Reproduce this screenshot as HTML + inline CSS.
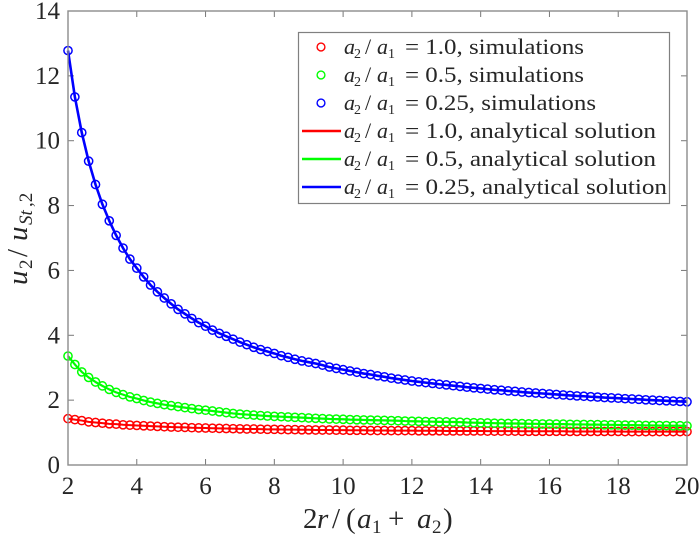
<!DOCTYPE html>
<html lang="en">
<head>
<meta charset="utf-8">
<title>Velocity ratio chart</title>
<style>
html,body{margin:0;padding:0;background:#fff;}
svg{display:block;}
text{font-family:"Liberation Serif",serif;fill:#262626;}
.i{font-style:italic;}
</style>
</head>
<body>
<svg id="chart" width="699" height="535" viewBox="0 0 699 535" xmlns="http://www.w3.org/2000/svg">
  <rect x="68" y="11" width="619" height="454" fill="#fff"/>
  <g id="ticks"></g>
  <g id="series"></g>
  <rect x="68" y="11" width="619" height="454" fill="none" stroke="#8c8c8c" stroke-width="1.4"/>
  <g id="tick-labels"></g>

  <text y="528" font-size="29">
    <tspan x="303">2</tspan><tspan x="317" class="i">r</tspan><tspan x="332">/</tspan><tspan x="346">(</tspan><tspan x="357" class="i">a</tspan><tspan x="372" y="533" font-size="19">1</tspan><tspan x="388" y="528">+</tspan><tspan x="417" class="i">a</tspan><tspan x="432" y="533" font-size="19">2</tspan><tspan x="443" y="528">)</tspan>
  </text>
  <text transform="translate(27,285) rotate(-90)" y="0" font-size="29">
    <tspan x="0" class="i">u</tspan><tspan x="16" y="5" font-size="19">2</tspan><tspan x="28" y="0">/</tspan><tspan x="44" class="i">u</tspan><tspan x="60" y="5" font-size="19" class="i">St</tspan><tspan x="78" y="5" font-size="19">,2</tspan>
  </text>

  <g>
    <rect x="298.5" y="32.5" width="371" height="171" fill="#fff" stroke="#808080" stroke-width="1.2"/>
    <g id="legend-keys"></g>
    <g font-size="22">
      <text y="54"><tspan x="344" class="i">a</tspan><tspan x="354" y="58" font-size="14">2</tspan><tspan x="365" y="54">/</tspan><tspan x="377" class="i">a</tspan><tspan x="388" y="58" font-size="14">1</tspan><tspan x="405" y="54" textLength="179" lengthAdjust="spacingAndGlyphs">= 1.0, simulations</tspan></text>
      <text y="82"><tspan x="344" class="i">a</tspan><tspan x="354" y="86" font-size="14">2</tspan><tspan x="365" y="82">/</tspan><tspan x="377" class="i">a</tspan><tspan x="388" y="86" font-size="14">1</tspan><tspan x="405" y="82" textLength="179" lengthAdjust="spacingAndGlyphs">= 0.5, simulations</tspan></text>
      <text y="110"><tspan x="344" class="i">a</tspan><tspan x="354" y="114" font-size="14">2</tspan><tspan x="365" y="110">/</tspan><tspan x="377" class="i">a</tspan><tspan x="388" y="114" font-size="14">1</tspan><tspan x="405" y="110" textLength="191" lengthAdjust="spacingAndGlyphs">= 0.25, simulations</tspan></text>
      <text y="138"><tspan x="344" class="i">a</tspan><tspan x="354" y="142" font-size="14">2</tspan><tspan x="365" y="138">/</tspan><tspan x="377" class="i">a</tspan><tspan x="388" y="142" font-size="14">1</tspan><tspan x="405" y="138" textLength="251" lengthAdjust="spacingAndGlyphs">= 1.0, analytical solution</tspan></text>
      <text y="166"><tspan x="344" class="i">a</tspan><tspan x="354" y="170" font-size="14">2</tspan><tspan x="365" y="166">/</tspan><tspan x="377" class="i">a</tspan><tspan x="388" y="170" font-size="14">1</tspan><tspan x="405" y="166" textLength="251" lengthAdjust="spacingAndGlyphs">= 0.5, analytical solution</tspan></text>
      <text y="194"><tspan x="344" class="i">a</tspan><tspan x="354" y="198" font-size="14">2</tspan><tspan x="365" y="194">/</tspan><tspan x="377" class="i">a</tspan><tspan x="388" y="198" font-size="14">1</tspan><tspan x="405" y="194" textLength="262" lengthAdjust="spacingAndGlyphs">= 0.25, analytical solution</tspan></text>
    </g>
  </g>
</svg>
<script>
const xTickValues = [2,4,6,8,10,12,14,16,18,20];
const yTickValues = [0,2,4,6,8,10,12,14];
const separations = [2,2.2,2.4,2.6,2.8,3,3.2,3.4,3.6,3.8,4,4.2,4.4,4.6,4.8,5,5.2,5.4,5.6,5.8,6,6.2,6.4,6.6,6.8,7,7.2,7.4,7.6,7.8,8,8.2,8.4,8.6,8.8,9,9.2,9.4,9.6,9.8,10,10.2,10.4,10.6,10.8,11,11.2,11.4,11.6,11.8,12,12.2,12.4,12.6,12.8,13,13.2,13.4,13.6,13.8,14,14.2,14.4,14.6,14.8,15,15.2,15.4,15.6,15.8,16,16.2,16.4,16.6,16.8,17,17.2,17.4,17.6,17.8,18,18.2,18.4,18.6,18.8,19,19.2,19.4,19.6,19.8,20];
const ratio100 = [1.43,1.40,1.37,1.33,1.31,1.29,1.27,1.26,1.24,1.23,1.22,1.21,1.20,1.19,1.18,1.17,1.165,1.16,1.15,1.145,1.14,1.135,1.13,1.125,1.12,1.115,1.11,1.11,1.105,1.10,1.10,1.095,1.09,1.09,1.085,1.085,1.08,1.08,1.08,1.075,1.075,1.07,1.07,1.07,1.065,1.065,1.065,1.06,1.06,1.06,1.06,1.055,1.055,1.055,1.055,1.05,1.05,1.05,1.05,1.05,1.05,1.045,1.045,1.045,1.045,1.045,1.04,1.04,1.04,1.04,1.04,1.04,1.04,1.035,1.035,1.035,1.035,1.035,1.035,1.035,1.035,1.03,1.03,1.03,1.03,1.03,1.03,1.03,1.03,1.03,1.03];
const ratio050 = [3.36,3.10,2.87,2.70,2.56,2.44,2.33,2.24,2.17,2.10,2.05,1.99,1.94,1.90,1.86,1.83,1.80,1.77,1.74,1.71,1.69,1.665,1.64,1.615,1.59,1.57,1.555,1.54,1.525,1.51,1.50,1.49,1.48,1.47,1.46,1.45,1.44,1.43,1.42,1.415,1.41,1.40,1.395,1.39,1.385,1.38,1.375,1.37,1.365,1.355,1.35,1.345,1.34,1.335,1.33,1.33,1.325,1.32,1.31,1.305,1.30,1.295,1.29,1.285,1.28,1.28,1.275,1.27,1.27,1.265,1.265,1.26,1.26,1.255,1.25,1.25,1.245,1.245,1.24,1.24,1.235,1.23,1.23,1.225,1.22,1.22,1.215,1.215,1.21,1.21,1.205];
const ratio025 = [12.78,11.35,10.25,9.37,8.65,8.04,7.53,7.08,6.69,6.35,6.07,5.80,5.55,5.34,5.15,4.97,4.80,4.66,4.52,4.39,4.28,4.16,4.06,3.97,3.88,3.79,3.71,3.63,3.56,3.50,3.44,3.37,3.32,3.26,3.21,3.17,3.13,3.08,3.02,2.98,2.94,2.90,2.86,2.82,2.79,2.75,2.72,2.68,2.65,2.62,2.59,2.565,2.54,2.515,2.49,2.47,2.445,2.425,2.40,2.38,2.36,2.34,2.32,2.305,2.285,2.27,2.25,2.235,2.22,2.205,2.19,2.175,2.16,2.145,2.13,2.12,2.105,2.095,2.08,2.07,2.06,2.045,2.035,2.025,2.01,2.00,1.99,1.98,1.97,1.96,1.95];

const NS = 'http://www.w3.org/2000/svg';
const plot = {left: 68, right: 687, top: 11, bottom: 465};
const xMin = 2, xMax = 20, yMin = 0, yMax = 14;
function xScale(v) { return plot.left + (v - xMin) / (xMax - xMin) * (plot.right - plot.left); }
function yScale(v) { return plot.bottom - (v - yMin) / (yMax - yMin) * (plot.bottom - plot.top); }
function make(tag, attrs, parent) {
  const el = document.createElementNS(NS, tag);
  for (const k in attrs) el.setAttribute(k, attrs[k]);
  parent.appendChild(el);
  return el;
}

const tickLayer = document.getElementById('ticks');
const labelLayer = document.getElementById('tick-labels');
xTickValues.forEach(function (v) {
  const x = xScale(v);
  const bottomTick = make('line', {x1: x, x2: x, y1: plot.bottom, y2: plot.bottom - 6, stroke: '#777', 'stroke-width': 1}, tickLayer);
  
  
  const topTick = make('line', {x1: x, x2: x, y1: plot.top, y2: plot.top + 6, stroke: '#777', 'stroke-width': 1}, tickLayer);
  
  
  const label = make('text', {x: x, y: 494, 'font-size': 25, 'text-anchor': 'middle'}, labelLayer);
  
  
  label.textContent = v;
});
yTickValues.forEach(function (v) {
  const y = yScale(v);
  const leftTick = make('line', {x1: plot.left, x2: plot.left + 6, y1: y, y2: y, stroke: '#777', 'stroke-width': 1}, tickLayer);
  
  
  const rightTick = make('line', {x1: plot.right, x2: plot.right - 6, y1: y, y2: y, stroke: '#777', 'stroke-width': 1}, tickLayer);
  
  
  const label = make('text', {x: 60, y: y + 8, 'font-size': 25, 'text-anchor': 'end'}, labelLayer);
  
  
  label.textContent = v;
});

const seriesLayer = document.getElementById('series');
function drawSeries(values, color, lineWidth) {
  const pts = values.map(function (v, i) { return xScale(separations[i]).toFixed(2) + ',' + yScale(v).toFixed(2); }).join(' ');
  const line = make('polyline', {points: pts, fill: 'none', stroke: color, 'stroke-width': lineWidth, 'stroke-linejoin': 'round'}, seriesLayer);
  
  
  values.forEach(function (v, i) {
    const c = make('circle', {cx: xScale(separations[i]), cy: yScale(v), r: 4.1, fill: 'none', stroke: color, 'stroke-width': 1.5}, seriesLayer);
    
    
  });
}
drawSeries(ratio100, '#ff0000', 2);
drawSeries(ratio050, '#00ff00', 2.2);
drawSeries(ratio025, '#0000ff', 2.6);

const keyLayer = document.getElementById('legend-keys');
[['#ff0000', 47], ['#00ff00', 75], ['#0000ff', 103]].forEach(function (k) {
  const m = make('circle', {cx: 321, cy: k[1], r: 3.9, fill: 'none', stroke: k[0], 'stroke-width': 1.4}, keyLayer);
  
  
});
[['#ff0000', 131], ['#00ff00', 159], ['#0000ff', 187]].forEach(function (k) {
  const l = make('line', {x1: 302, x2: 341, y1: k[1], y2: k[1], stroke: k[0], 'stroke-width': 2.6}, keyLayer);
  
  
});
</script>
</body>
</html>
